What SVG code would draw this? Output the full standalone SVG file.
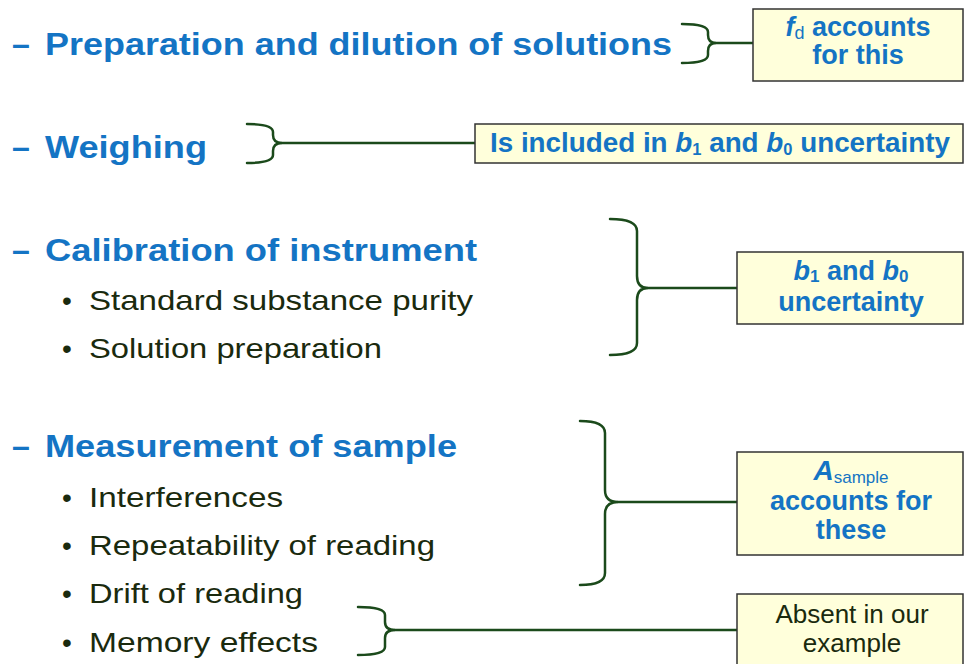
<svg xmlns="http://www.w3.org/2000/svg" width="964" height="664" viewBox="0 0 964 664">
<style>
.h{font-family:"Liberation Sans",Arial,sans-serif;font-weight:bold;font-size:32px;fill:#1474C4}
.b{font-family:"Liberation Sans",Arial,sans-serif;font-size:28px;fill:#1A2A0E}
.bt{font-family:"Liberation Sans",Arial,sans-serif;font-weight:bold;font-size:27px;fill:#1474C4;text-anchor:middle}
.nt{font-family:"Liberation Sans",Arial,sans-serif;font-size:26px;fill:#1A2A0E;text-anchor:middle}
.box{fill:#FFFFDB;stroke:#333333;stroke-width:1.5}
.br{fill:none;stroke:#1B4A1B;stroke-width:2.5;stroke-linecap:round}
.i{font-style:italic}
</style>
<rect width="964" height="664" fill="#FFFFFF"/>
<g id="items">
<text class="h" x="12" y="55">–</text>
<text class="h" x="45" y="55" textLength="627" lengthAdjust="spacingAndGlyphs">Preparation and dilution of solutions</text>
<text class="h" x="12" y="158">–</text>
<text class="h" x="45" y="158" textLength="162" lengthAdjust="spacingAndGlyphs">Weighing</text>
<text class="h" x="12" y="261">–</text>
<text class="h" x="45" y="261" textLength="432" lengthAdjust="spacingAndGlyphs">Calibration of instrument</text>
<text class="b" x="62" y="310">•</text>
<text class="b" x="89" y="310" textLength="384" lengthAdjust="spacingAndGlyphs">Standard substance purity</text>
<text class="b" x="62" y="358">•</text>
<text class="b" x="89" y="358" textLength="293" lengthAdjust="spacingAndGlyphs">Solution preparation</text>
<text class="h" x="12" y="457">–</text>
<text class="h" x="45" y="457" textLength="412" lengthAdjust="spacingAndGlyphs">Measurement of sample</text>
<text class="b" x="62" y="507">•</text>
<text class="b" x="89" y="507" textLength="194" lengthAdjust="spacingAndGlyphs">Interferences</text>
<text class="b" x="62" y="555">•</text>
<text class="b" x="89" y="555" textLength="346" lengthAdjust="spacingAndGlyphs">Repeatability of reading</text>
<text class="b" x="62" y="603">•</text>
<text class="b" x="89" y="603" textLength="214" lengthAdjust="spacingAndGlyphs">Drift of reading</text>
<text class="b" x="62" y="652">•</text>
<text class="b" x="89" y="652" textLength="229" lengthAdjust="spacingAndGlyphs">Memory effects</text>
</g>
<g id="connectors">
<path class="br" d="M682,24 Q708,24 708,32 L708,35 Q708,43 716,43 Q708,43 708,51 L708,55 Q708,63 682,63"/>
<line class="br" x1="716" y1="43" x2="753" y2="43"/>
<path class="br" d="M247,124 Q273,124 273,132 L273,135 Q273,143 282,143 Q273,143 273,151 L273,155 Q273,163 247,163"/>
<line class="br" x1="282" y1="143" x2="475" y2="143"/>
<path class="br" d="M610,219 Q637,219 637,231 L637,276 Q637,288 648,288 Q637,288 637,300 L637,343 Q637,355 610,355"/>
<line class="br" x1="648" y1="288" x2="737" y2="288"/>
<path class="br" d="M580,421 Q605,421 605,433 L605,490 Q605,502 618,502 Q605,502 605,514 L605,573 Q605,585 580,585"/>
<line class="br" x1="618" y1="502" x2="737" y2="502"/>
<path class="br" d="M358,607 Q385,607 385,615 L385,622 Q385,630 395,630 Q385,630 385,638 L385,647 Q385,655 358,655"/>
<line class="br" x1="395" y1="630" x2="737" y2="630"/>
</g>
<g id="box-fd">
<rect class="box" x="753" y="9" width="210" height="72"/>
<text class="bt" x="858" y="36"><tspan class="i">f</tspan><tspan font-size="18" font-weight="normal" dy="3">d</tspan><tspan dy="-3"> accounts</tspan></text>
<text class="bt" x="858" y="64">for this</text>
</g>
<g id="box-weigh">
<rect class="box" x="475" y="124" width="488" height="39"/>
<text class="bt" x="720" y="152" font-size="24" textLength="460" lengthAdjust="spacingAndGlyphs">Is included in <tspan class="i">b</tspan><tspan font-size="16" dy="3">1</tspan><tspan dy="-3"> and </tspan><tspan class="i">b</tspan><tspan font-size="16" dy="3">0</tspan><tspan dy="-3"> uncertainty</tspan></text>
</g>
<g id="box-b">
<rect class="box" x="737" y="252" width="226" height="72"/>
<text class="bt" x="851" y="280"><tspan class="i">b</tspan><tspan font-size="17" dy="2">1</tspan><tspan dy="-2"> and </tspan><tspan class="i">b</tspan><tspan font-size="17" dy="2">0</tspan></text>
<text class="bt" x="851" y="311">uncertainty</text>
</g>
<g id="box-a">
<rect class="box" x="737" y="452" width="226" height="103"/>
<text class="bt" x="851" y="480"><tspan class="i" font-size="28">A</tspan><tspan font-size="17" font-weight="normal" dy="3">sample</tspan></text>
<text class="bt" x="851" y="510">accounts for</text>
<text class="bt" x="851" y="539">these</text>
</g>
<g id="box-absent">
<rect class="box" x="737" y="594" width="226" height="80"/>
<text class="nt" x="852" y="623">Absent in our</text>
<text class="nt" x="852" y="652">example</text>
</g>
</svg>
